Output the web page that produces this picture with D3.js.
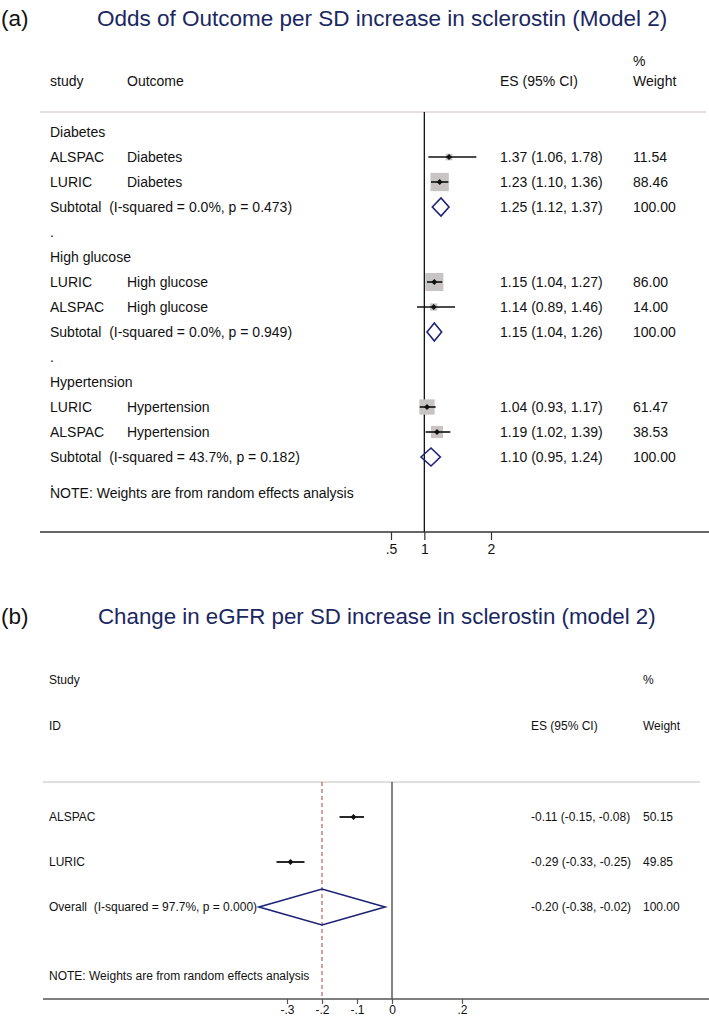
<!DOCTYPE html>
<html><head><meta charset="utf-8">
<script src="https://cdn.jsdelivr.net/npm/d3@7"></script>
<style>
html,body{margin:0;padding:0;background:#fff;}
text{font-family:"Liberation Sans",Arial,sans-serif;fill:#111;}
</style></head>
<body><svg id="c" width="709" height="1019"></svg>
<script>
// ---------- Panel (a) data ----------
const groups = ["Diabetes", "High glucose", "Hypertension"];
const groupStudies = [["ALSPAC", "LURIC"], ["LURIC", "ALSPAC"], ["LURIC", "ALSPAC"]];
const groupES = [[1.37, 1.23], [1.15, 1.14], [1.04, 1.19]];
const groupLo = [[1.06, 1.10], [1.04, 0.89], [0.93, 1.02]];
const groupHi = [[1.78, 1.36], [1.27, 1.46], [1.17, 1.39]];
const groupW = [[11.54, 88.46], [86.00, 14.00], [61.47, 38.53]];
const subES = [1.25, 1.15, 1.10];
const subLo = [1.12, 1.04, 0.95];
const subHi = [1.37, 1.26, 1.24];
const subI2 = ["0.0%", "0.0%", "43.7%"];
const subP = ["0.473", "0.949", "0.182"];
const aTicks = [0.5, 1, 2];
const aTickLabels = [".5", "1", "2"];

// ---------- Panel (b) data ----------
const bStudies = ["ALSPAC", "LURIC"];
const bES = [-0.11, -0.29];
const bLo = [-0.15, -0.33];
const bHi = [-0.08, -0.25];
const bW = [50.15, 49.85];
const bOverall = {es: -0.20, lo: -0.38, hi: -0.02, i2: "97.7%", p: "0.000"};
const bTicks = [-0.3, -0.2, -0.1, 0, 0.2];
const bTickLabels = ["-.3", "-.2", "-.1", "0", ".2"];

const f2 = v => v.toFixed(2);
const svg = d3.select("#c");
const NAVY = "#1b285f", DIA = "#1c2277";

function txt(g, x, y, s, size, opts = {}) {
  return g.append("text").attr("x", x).attr("y", y).attr("dy", "0.35em")
    .attr("font-size", size).attr("text-anchor", opts.anchor || "start")
    .style("fill", opts.fill || "#111").text(s);
}

// ================= Panel (a) =================
{
  const g = svg.append("g");
  const fs = 14;
  txt(g, 1, 18, "(a)", 22.5);
  txt(g, 97, 18, "Odds of Outcome per SD increase in sclerostin (Model 2)", 22.5, {fill: NAVY});
  txt(g, 633, 61, "%", fs);
  txt(g, 50, 81, "study", fs);
  txt(g, 127, 81, "Outcome", fs);
  txt(g, 500, 81, "ES (95% CI)", fs);
  txt(g, 633, 81, "Weight", fs);

  const x = d3.scaleLinear().domain([0.5, 2]).range([391, 491]);
  const yTop = 112, yAxis = 532;
  const rows = [];
  groups.forEach((gr, gi) => {
    rows.push({type: "head", label: gr});
    groupStudies[gi].forEach((s, si) => rows.push({type: "study", study: s, outcome: gr,
      es: groupES[gi][si], lo: groupLo[gi][si], hi: groupHi[gi][si], w: groupW[gi][si]}));
    rows.push({type: "sub", es: subES[gi], lo: subLo[gi], hi: subHi[gi], i2: subI2[gi], p: subP[gi]});
    rows.push({type: "dot"});
  });
  const y = d3.scaleLinear().domain([0, 1]).range([132, 157]);

  g.append("line").attr("x1", 40).attr("x2", 706).attr("y1", yTop).attr("y2", yTop)
    .attr("stroke", "#e2dedb").attr("stroke-width", 2);
  g.append("line").attr("x1", x(1)).attr("x2", x(1)).attr("y1", yTop).attr("y2", yAxis)
    .attr("stroke", "#111").attr("stroke-width", 1.3);

  rows.forEach((r, i) => {
    const yy = y(i);
    if (r.type === "head") txt(g, 50, yy, r.label, fs);
    else if (r.type === "dot") txt(g, 50, yy, ".", fs);
    else if (r.type === "study") {
      txt(g, 50, yy, r.study, fs);
      txt(g, 127, yy, r.outcome, fs);
      const side = 1.95 * Math.sqrt(r.w);
      g.append("rect").attr("x", x(r.es) - side / 2).attr("y", yy - side / 2)
        .attr("width", side).attr("height", side).attr("fill", "#c9c4c4");
      g.append("line").attr("x1", x(r.lo)).attr("x2", x(r.hi)).attr("y1", yy).attr("y2", yy)
        .attr("stroke", "#111").attr("stroke-width", 1.6);
      g.append("path").attr("d", `M${x(r.es)-3},${yy}L${x(r.es)},${yy-3}L${x(r.es)+3},${yy}L${x(r.es)},${yy+3}Z`)
        .attr("fill", "#111");
      txt(g, 500, yy, `${f2(r.es)} (${f2(r.lo)}, ${f2(r.hi)})`, fs);
      txt(g, 633, yy, f2(r.w), fs);
    } else if (r.type === "sub") {
      txt(g, 50, yy, `Subtotal  (I-squared = ${r.i2}, p = ${r.p})`, fs).style("white-space", "pre");
      const h = 9;
      g.append("path").attr("d", `M${x(r.lo)},${yy}L${x(r.es)},${yy-h}L${x(r.hi)},${yy}L${x(r.es)},${yy+h}Z`)
        .attr("fill", "none").attr("stroke", DIA).attr("stroke-width", 1.6);
      txt(g, 500, yy, `${f2(r.es)} (${f2(r.lo)}, ${f2(r.hi)})`, fs);
      txt(g, 633, yy, "100.00", fs);
    }
  });
  txt(g, 50, 493, "NOTE: Weights are from random effects analysis", fs);

  g.append("line").attr("x1", 40).attr("x2", 709).attr("y1", yAxis).attr("y2", yAxis)
    .attr("stroke", "#333").attr("stroke-width", 1.5);
  const ax = g.append("g").attr("transform", `translate(0,${yAxis})`)
    .call(d3.axisBottom(x).tickValues(aTicks).tickFormat((d, i) => aTickLabels[i]).tickSize(8).tickPadding(4));
  ax.select(".domain").remove();
  ax.selectAll("line").attr("stroke", "#333").attr("stroke-width", 1.2);
  ax.selectAll("text").attr("font-size", fs).style("font-family", "Liberation Sans, Arial, sans-serif").style("fill", "#111");
}

// ================= Panel (b) =================
{
  const g = svg.append("g");
  const fs = 12;
  txt(g, 1, 616, "(b)", 22.5);
  txt(g, 98, 616, "Change in eGFR per SD increase in sclerostin (model 2)", 22.3, {fill: NAVY});
  txt(g, 49, 680, "Study", fs);
  txt(g, 643, 680, "%", fs);
  txt(g, 49, 726, "ID", fs);
  txt(g, 531, 726, "ES (95% CI)", fs);
  txt(g, 643, 726, "Weight", fs);

  const x = d3.scaleLinear().domain([-0.3, 0.2]).range([287, 462]);
  const yTop = 782, yAxis = 999;
  const y = d3.scaleLinear().domain([0, 1]).range([817, 862]);

  g.append("line").attr("x1", 43).attr("x2", 700).attr("y1", yTop).attr("y2", yTop)
    .attr("stroke", "#e2dedb").attr("stroke-width", 2);
  g.append("line").attr("x1", x(0)).attr("x2", x(0)).attr("y1", yTop).attr("y2", yAxis)
    .attr("stroke", "#333").attr("stroke-width", 1.2);
  g.append("line").attr("x1", x(bOverall.es)).attr("x2", x(bOverall.es)).attr("y1", yTop).attr("y2", yAxis)
    .attr("stroke", "#a8423c").attr("stroke-width", 1).attr("stroke-dasharray", "4,3");

  bStudies.forEach((s, i) => {
    const yy = y(i);
    txt(g, 49, yy, s, fs);
    g.append("line").attr("x1", x(bLo[i])).attr("x2", x(bHi[i])).attr("y1", yy).attr("y2", yy)
      .attr("stroke", "#111").attr("stroke-width", 1.8);
    g.append("path").attr("d", `M${x(bES[i])-3},${yy}L${x(bES[i])},${yy-3}L${x(bES[i])+3},${yy}L${x(bES[i])},${yy+3}Z`)
      .attr("fill", "#111");
    txt(g, 531, yy, `${f2(bES[i])} (${f2(bLo[i])}, ${f2(bHi[i])})`, fs);
    txt(g, 643, yy, f2(bW[i]), fs);
  });
  const yo = y(2);
  txt(g, 49, yo, `Overall  (I-squared = ${bOverall.i2}, p = ${bOverall.p})`, fs).style("white-space", "pre");
  g.append("path").attr("d", `M${x(bOverall.lo)},${yo}L${x(bOverall.es)},${yo-18}L${x(bOverall.hi)},${yo}L${x(bOverall.es)},${yo+18}Z`)
    .attr("fill", "none").attr("stroke", DIA).attr("stroke-width", 1.6);
  txt(g, 531, yo, `${f2(bOverall.es)} (${f2(bOverall.lo)}, ${f2(bOverall.hi)})`, fs);
  txt(g, 643, yo, "100.00", fs);
  txt(g, 49, 976, "NOTE: Weights are from random effects analysis", fs);

  g.append("line").attr("x1", 43).attr("x2", 709).attr("y1", yAxis).attr("y2", yAxis)
    .attr("stroke", "#555").attr("stroke-width", 1.5);
  const ax = g.append("g").attr("transform", `translate(0,${yAxis})`)
    .call(d3.axisBottom(x).tickValues(bTicks).tickFormat((d, i) => bTickLabels[i]).tickSize(5).tickPadding(1));
  ax.select(".domain").remove();
  ax.selectAll("line").attr("stroke", "#555").attr("stroke-width", 1.2);
  ax.selectAll("text").attr("font-size", fs).style("font-family", "Liberation Sans, Arial, sans-serif").style("fill", "#111");
}
</script></body></html>
